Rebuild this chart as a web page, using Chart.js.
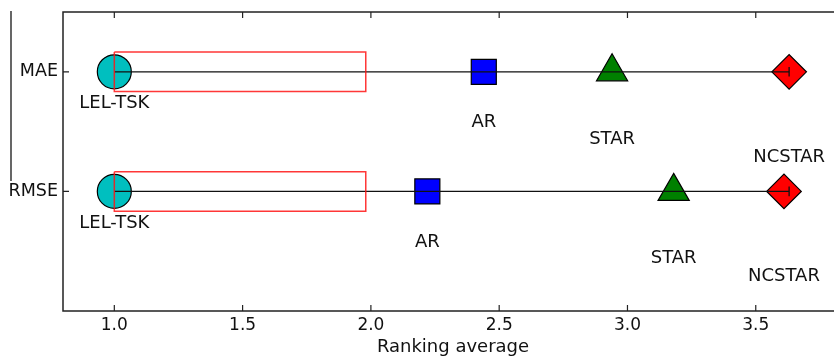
<!DOCTYPE html>
<html><head><meta charset="utf-8">
<script src="https://cdn.jsdelivr.net/npm/chart.js@4/dist/chart.umd.min.js"></script>
<style>html,body{margin:0;padding:0;overflow:hidden;background:#fff}canvas{display:block}</style>
</head><body>
<canvas id="c" width="844" height="357"></canvas>
<script>
// ---- data ----
const methods = ['LEL-TSK', 'AR', 'STAR', 'NCSTAR'];
const metrics = ['MAE', 'RMSE'];
const maeRank = [1.00, 2.44, 2.94, 3.63];
const rmseRank = [1.00, 2.22, 3.18, 3.61];
const lineEnd = [3.63, 3.63];
const criticalDiff = 0.98;
const xTicks = [1.0, 1.5, 2.0, 2.5, 3.0, 3.5];
const xAxisTitle = 'Ranking average';

// ---- styles ----
const FONT = 'DejaVu Sans';
Chart.defaults.font.family = FONT;
const markerStyles = [
  {style: 'circle', color: '#00BFBF', r: 17},
  {style: 'rect', color: '#0000FF', r: 17.7},
  {style: 'triangle', color: '#008000', r: 18},
  {style: 'rectRot', color: '#FF0000', r: 17.3}
];
const labelOffsets = [0.255, 0.41, 0.55, 0.70];
const rectHalf = 0.165;
const capHalf = 0.04;

const ranks = [maeRank, rmseRank];
const datasets = [];

methods.forEach((m, i) => {
  const s = markerStyles[i];
  datasets.push({
    label: m,
    data: ranks.map((rk, r) => ({x: rk[i], y: r + 1})),
    pointStyle: s.style, pointRadius: s.r, pointHoverRadius: s.r,
    backgroundColor: s.color, borderColor: '#000', borderWidth: 1.2,
    showLine: false, order: 2, clip: false
  });
});

metrics.forEach((m, r) => {
  const y = r + 1;
  const best = ranks[r][0];
  datasets.push({
    label: m + ' line',
    data: [{x: best, y: y}, {x: lineEnd[r], y: y}],
    showLine: true, pointRadius: 0, borderColor: '#111', borderWidth: 1.3, order: 1
  });
  datasets.push({
    label: m + ' cap',
    data: [{x: lineEnd[r], y: y - capHalf}, {x: lineEnd[r], y: y + capHalf}],
    showLine: true, pointRadius: 0, borderColor: '#111', borderWidth: 1.3, order: 1
  });
  datasets.push({
    label: m + ' CD',
    data: [
      {x: best, y: y - rectHalf}, {x: best + criticalDiff, y: y - rectHalf},
      {x: best + criticalDiff, y: y + rectHalf}, {x: best, y: y + rectHalf},
      {x: best, y: y - rectHalf}
    ],
    showLine: true, pointRadius: 0, borderColor: 'rgba(255,20,20,0.85)', borderWidth: 1.5, order: 0
  });
});

const framePlugin = {
  id: 'frame',
  afterDraw(chart) {
    const {ctx, chartArea: a, scales: {x, y}} = chart;
    ctx.save();
    ctx.strokeStyle = '#222';
    ctx.lineWidth = 1.5;
    ctx.beginPath();
    ctx.moveTo(a.right + 5, a.top); ctx.lineTo(a.left, a.top);
    ctx.lineTo(a.left, a.bottom); ctx.lineTo(a.right + 5, a.bottom);
    ctx.stroke();
    ctx.lineWidth = 1.2;
    ctx.beginPath();
    x.ticks.forEach(t => {
      const px = x.getPixelForValue(t.value);
      ctx.moveTo(px, a.bottom); ctx.lineTo(px, a.bottom - 6);
      ctx.moveTo(px, a.top); ctx.lineTo(px, a.top + 6);
    });
    y.ticks.forEach(t => {
      const py = y.getPixelForValue(t.value);
      ctx.moveTo(a.left, py); ctx.lineTo(a.left + 6, py);
    });
    ctx.stroke();
    // stray vertical line at far left
    ctx.strokeStyle = '#000';
    ctx.lineWidth = 1.2;
    ctx.beginPath();
    ctx.moveTo(11, 11); ctx.lineTo(11, 181);
    ctx.stroke();
    ctx.restore();
  }
};

const labelPlugin = {
  id: 'labels',
  afterDatasetsDraw(chart) {
    const {ctx, scales: {x, y}} = chart;
    ctx.save();
    ctx.font = '18px "' + FONT + '"';
    ctx.fillStyle = '#111';
    ctx.textAlign = 'center';
    ctx.textBaseline = 'middle';
    ranks.forEach((rk, r) => {
      methods.forEach((m, i) => {
        ctx.fillText(m, x.getPixelForValue(rk[i]), y.getPixelForValue(r + 1 + labelOffsets[i]) + 1.5);
      });
    });
    ctx.restore();
  }
};

new Chart(document.getElementById('c'), {
  type: 'scatter',
  data: {datasets},
  options: {
    responsive: false,
    animation: false,
    events: [],
    devicePixelRatio: 1,
    layout: {autoPadding: false, padding: {left: 0, right: 1, top: 12, bottom: 0}},
    plugins: {legend: {display: false}, tooltip: {enabled: false}},
    scales: {
      x: {
        type: 'linear', min: 0.8, max: 3.84,
        grid: {display: false, drawTicks: false},
        border: {display: false},
        afterBuildTicks: s => { s.ticks = xTicks.map(v => ({value: v})); },
        afterFit: s => { s.height = 46; s.paddingLeft = 0; s.paddingRight = 0; },
        ticks: {font: {size: 17}, color: '#111', padding: 4, maxRotation: 0, autoSkip: false,
                callback: v => Number(v).toFixed(1)},
        title: {display: true, text: xAxisTitle, font: {size: 18}, color: '#111', padding: {top: 0, bottom: -1.5}}
      },
      y: {
        type: 'linear', reverse: true, min: 0.5, max: 3.0,
        grid: {display: false, drawTicks: false},
        border: {display: false},
        afterBuildTicks: s => { s.ticks = metrics.map((m, r) => ({value: r + 1})); },
        afterFit: s => { s.width = 63; s.paddingTop = 0; s.paddingBottom = 0; },
        ticks: {font: {size: 17.5}, color: '#111', padding: 5, autoSkip: false,
                callback: v => metrics[Math.round(v) - 1]}
      }
    }
  },
  plugins: [framePlugin, labelPlugin]
});
</script>
</body></html>
